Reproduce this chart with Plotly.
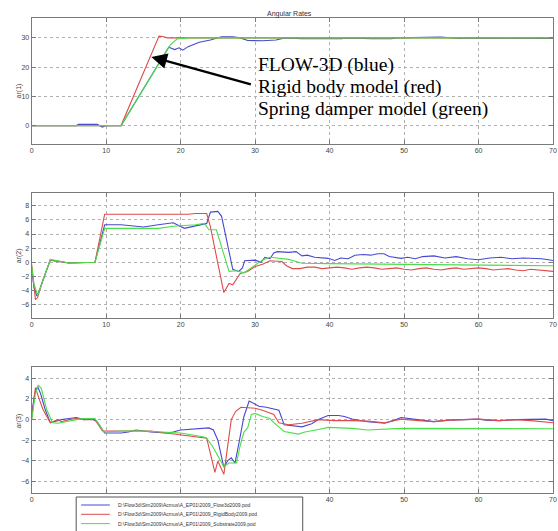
import plotly.graph_objects as go

W, H = 558, 531

# ---------------- data ----------------
SERIES_NAMES = [
    "D:\\Flow3d\\Sim2009\\Acmus\\A_EP01\\2009_Flow3d2009.pod",
    "D:\\Flow3d\\Sim2009\\Acmus\\A_EP01\\2009_RigidBody2009.pod",
    "D:\\Flow3d\\Sim2009\\Acmus\\A_EP01\\2009_Substrate2009.pod",
]
SERIES_COLORS = ["#4848d0", "#e04a4a", "#48e048"]

AR1_BLUE = [(0, 0), (6, 0), (6.3, 0.4), (8.8, 0.4), (9.5, -0.5), (10, 0), (12, 0), (18.4, 26.8),
            (19.2, 26.0), (19.8, 26.6), (20.3, 25.8), (21, 27.0), (22.5, 28.5), (24, 29.3),
            (25.5, 30.4), (27, 30.4), (28, 30.0), (29, 29.1), (31, 29.0), (32.8, 29.3),
            (34, 30.0), (36.3, 29.7), (41.6, 29.7), (42.5, 30.0), (45.6, 29.7), (48.3, 29.7),
            (49, 30.0), (54.9, 30.3), (57.6, 29.8), (58.5, 30.0), (69, 29.8), (70, 29.8)]
AR1_RED = [(0, 0), (12, 0), (17.1, 30.6), (17.6, 30.5), (18.2, 30.0), (70, 30.0)]
AR1_GREEN = [(0, 0), (12, 0), (18.6, 27.5), (19.5, 29.6), (21, 30.0), (70, 30.0)]

AR2_BLUE = [(0, -1.0), (0.3, -3.5), (0.7, -4.8), (1.2, -3.5), (2.5, 0.3), (3, 0.2), (5, -0.1),
            (8.5, 0), (9.8, 5.3), (12, 5.3), (15, 5.0), (17, 5.3), (19, 5.6), (20.5, 4.8),
            (21.5, 5.0), (23, 5.3), (23.5, 5.5), (24, 7.1), (25, 7.2), (25.5, 6.5), (27, -1.0),
            (27.8, -1.3), (28.3, -0.8), (28.6, 0.2), (30, 0.3), (30.8, 0.0), (31.3, 0.7),
            (32, 0.5), (32.5, 1.3), (33, 1.5), (34.5, 1.4), (35.5, 1.5), (36.3, 0.9), (37, 1.0),
            (38, 0.7), (39.8, 0.55), (40.7, 0.25), (41.5, 0.6), (42.5, 0.5), (43.4, 1.0),
            (44.5, 1.1), (45.5, 1.0), (46.5, 1.2), (47.3, 1.2), (48, 0.8), (49.6, 0.55),
            (50.5, 0.7), (51.5, 0.5), (52.5, 0.8), (54, 0.9), (55.5, 0.6), (57, 0.8), (58.5, 0.5),
            (60, 0.35), (61.5, 0.6), (63, 0.7), (64.5, 0.5), (66, 0.6), (67.3, 0.55), (68.5, 0.5),
            (70, 0.25)]
AR2_RED = [(0, -0.3), (0.5, -5.3), (0.8, -5.0), (1.5, -2.5), (2.5, 0.3), (3, 0.2), (5, -0.1),
           (8.5, 0), (9.8, 6.8), (21, 6.8), (22, 6.9), (23.5, 6.9), (24, 5.0), (25.8, -4.3),
           (26.5, -3.0), (27, -3.2), (28, -1.6), (29, -1.3), (30, -0.6), (31, -0.3), (32, 0.2),
           (33.6, 0.1), (34.2, -0.5), (35, -0.9), (36, -0.9), (37, -0.7), (38, -0.7), (39, -0.9),
           (40, -0.8), (41, -0.7), (42, -0.8), (43, -1.0), (44, -0.8), (45, -0.7), (46, -0.8),
           (47, -1.0), (48, -0.9), (49, -0.8), (50, -1.0), (51, -1.1), (52, -0.9), (53, -0.8),
           (54, -1.0), (55, -1.1), (56, -0.9), (57, -0.8), (58, -1.0), (59, -0.9), (60, -0.8),
           (61, -0.9), (62, -1.1), (63, -1.0), (64, -0.9), (65, -1.1), (66, -1.2), (67, -1.0),
           (68, -1.1), (69, -1.3), (70, -1.3)]
AR2_GREEN = [(0, -0.5), (0.3, -3.0), (0.8, -4.7), (1.5, -2.5), (2.5, 0.4), (3, 0.3), (5, -0.1),
             (8.5, 0), (9.8, 4.8), (17, 4.8), (19, 5.1), (22, 5.3), (23.2, 5.5), (23.8, 4.6),
             (24.8, 4.6), (26.5, -1.3), (27.5, -1.2), (28.5, -1.5), (30, -0.4), (31, 0.3),
             (32, 0.7), (33, 0.6), (34.5, 0.4), (35.5, 0.1), (36.3, -0.15), (40, -0.2),
             (45, -0.25), (50, -0.3), (55, -0.3), (60, -0.35), (65, -0.45), (70, -0.5)]

AR3_BLUE = [(0, 0.5), (0.4, 2.5), (0.8, 3.2), (1.2, 2.5), (1.8, 1.0), (2.5, -0.3), (3, -0.2),
            (4, 0), (5, 0.1), (6, 0.2), (7, 0), (8, 0.1), (8.8, -0.2), (9.8, -1.3), (12, -1.3),
            (13, -1.2), (14, -1.0), (15, -1.1), (16, -1.2), (18, -1.3), (19, -1.2), (20, -1.0),
            (22, -0.9), (23.8, -0.8), (24.4, -1.0), (25, -2.0), (25.8, -4.6), (26.3, -4.0),
            (26.8, -3.7), (27.3, -4.2), (27.9, -2.0), (28.5, 0.3), (29.2, 1.8), (30, 1.5),
            (30.5, 1.3), (31.5, 1.2), (32.5, 1.0), (33.2, 0.9), (33.9, -0.5), (36.3, -0.7),
            (37.6, -0.4), (38.5, 0), (39.8, 0.4), (41.2, 0.4), (42, 0.3), (43, 0.05),
            (45.1, -0.2), (47.4, -0.35), (48.5, -0.1), (49.6, 0.2), (51.8, 0), (54, -0.2),
            (56, -0.05), (58.4, 0), (60, 0.05), (61, -0.05), (62.8, -0.1), (65, 0), (67.3, 0),
            (69, 0.05), (70, -0.1)]
AR3_RED = [(0, 0), (0.5, 3.1), (1, 2.0), (1.5, 1.0), (2.5, -0.3), (3.5, 0), (4, -0.2), (5, 0),
           (6, 0.1), (7, 0), (8.5, 0), (9.5, -1.1), (16, -1.1), (20, -1.5), (23.5, -1.8),
           (24.6, -5.1), (25, -4.0), (25.8, -5.3), (26.8, 0), (27.4, 0.8), (28.1, 1.2), (30, 1.1),
           (31, 0.9), (32.5, 0.5), (33.2, -0.3), (34.5, -0.5), (36.3, -0.35), (38.5, 0),
           (40.7, -0.1), (43, -0.1), (45.1, -0.15), (47.4, -0.3), (49.6, 0.05), (52, -0.1),
           (54, -0.2), (56, -0.05), (58.4, 0), (60, 0.05), (62.8, -0.1), (65, 0), (67, -0.1),
           (70, -0.3)]
AR3_GREEN = [(0, 0), (0.5, 2.5), (0.9, 3.35), (1.3, 3.0), (2, 1.0), (2.8, -0.3), (3.5, -0.35),
             (4.5, -0.2), (6, 0), (7, 0.1), (8.5, 0.1), (9.7, -1.2), (12, -1.1), (15, -1.1),
             (17, -1.2), (20, -1.3), (23, -1.65), (23.5, -1.8), (24.3, -2.6), (25.8, -4.55),
             (26.5, -4.2), (27.5, -4.2), (28, -2.5), (28.5, -1.2), (29, -0.8), (29.5, 0.5),
             (30, 0.6), (31, 0.3), (32, 0.1), (32.5, -0.3), (33.5, -0.9), (33.9, -1.15),
             (35.8, -1.4), (36.7, -1.2), (38.5, -0.95), (39.8, -0.75), (43, -0.85), (45.1, -1.0),
             (49.6, -0.85), (55, -0.85), (60, -0.85), (65, -0.9), (70, -0.88)]

PANELS = [
    ("ar(1)", [AR1_BLUE, AR1_RED, AR1_GREEN], [0, 10, 20, 30], (-6.3, 36.8)),
    ("ar(2)", [AR2_BLUE, AR2_RED, AR2_GREEN], [-6, -4, -2, 0, 2, 4, 6, 8], (-7.9, 9.85)),
    ("ar(3)", [AR3_BLUE, AR3_RED, AR3_GREEN], [-6, -4, -2, 0, 2, 4], (-7.1, 5.06)),
]
X_TICKS = [0, 10, 20, 30, 40, 50, 60, 70]
TITLE = "Angular Rates"
NOTE_LINES = ["FLOW-3D (blue)", "Rigid body model (red)", "Spring damper model (green)"]

# ---------------- layout helpers ----------------
def px(x):
    return x / W

def py(y):
    return 1 - y / H

PLOT_X = (30, 557)
PANEL_Y = [(18, 144), (192.7, 318), (367.3, 493)]

fig = go.Figure()
layout = dict(
    width=W, height=H, margin=dict(l=0, r=0, t=0, b=0),
    paper_bgcolor="white", plot_bgcolor="white", showlegend=False,
    font=dict(family="Liberation Sans, Arial", size=7, color="#444444"),
)
annotations = []
shapes = []

axis_common = dict(
    showline=True, linecolor="#7a7a7a", linewidth=1, mirror="allticks",
    ticks="inside", ticklen=4, tickcolor="#7a7a7a", tickwidth=1,
    showgrid=True, gridcolor="#b0b0b0", griddash="dot", gridwidth=1,
    zeroline=False, tickfont=dict(size=7, color="#444444", family="Liberation Sans, Arial"),
)

for i, (label, series, yticks, yr) in enumerate(PANELS):
    n = "" if i == 0 else str(i + 1)
    top, bot = PANEL_Y[i]
    layout["xaxis" + n] = dict(axis_common, domain=[px(PLOT_X[0]), px(PLOT_X[1])],
                               range=[0, 70], tickvals=X_TICKS, anchor="y" + n,
                               ticklabeloverflow="allow")
    layout["yaxis" + n] = dict(axis_common, domain=[py(bot), py(top)], range=list(yr),
                               tickvals=yticks, anchor="x" + n)
    for s, pts in enumerate(series):
        fig.add_trace(go.Scatter(
            x=[p[0] for p in pts], y=[p[1] for p in pts], mode="lines",
            line=dict(color=SERIES_COLORS[s], width=1.1), name=SERIES_NAMES[s],
            xaxis="x" + n, yaxis="y" + n, hoverinfo="skip"))
    annotations.append(dict(text=label, x=px(11), y=py((top + bot) / 2), xref="paper",
                            yref="paper", showarrow=False, textangle=-90,
                            font=dict(size=7, color="#444444")))

annotations.append(dict(text=TITLE, x=px(291), y=py(8), xref="paper", yref="paper",
                        showarrow=False, font=dict(size=7, color="#333333")))

# arrow pointing to red ramp
annotations.append(dict(text="", x=16.07, y=23.5, xref="x", yref="y", showarrow=True,
                        axref="pixel", ayref="pixel", ax=101, ay=28, arrowhead=2,
                        arrowsize=1.3, arrowwidth=2.4, arrowcolor="black"))
for k, line in enumerate(NOTE_LINES):
    annotations.append(dict(text=line, x=px(257), y=py(64.5 + 22.3 * k), xref="paper",
                            yref="paper", xanchor="left", yanchor="middle", showarrow=False,
                            font=dict(family="Liberation Serif, Times New Roman", size=19.5,
                                      color="black")))

# legend box (drawn)
shapes.append(dict(type="rect", xref="paper", yref="paper", x0=px(75), x1=px(304),
                   y0=py(545), y1=py(497), line=dict(color="#555555", width=1),
                   fillcolor="white", layer="above"))
for s in range(3):
    yy = 505 + 9.3 * s
    shapes.append(dict(type="line", xref="paper", yref="paper", x0=px(80), x1=px(109),
                       y0=py(yy), y1=py(yy), line=dict(color=SERIES_COLORS[s], width=1),
                       layer="above"))
    annotations.append(dict(text=SERIES_NAMES[s], x=px(115), y=py(yy), xref="paper",
                            yref="paper", xanchor="left", yanchor="middle", showarrow=False,
                            font=dict(size=5, color="#333333")))

layout["annotations"] = annotations
layout["shapes"] = shapes
fig.update_layout(**layout)
fig.write_html("out.html")
